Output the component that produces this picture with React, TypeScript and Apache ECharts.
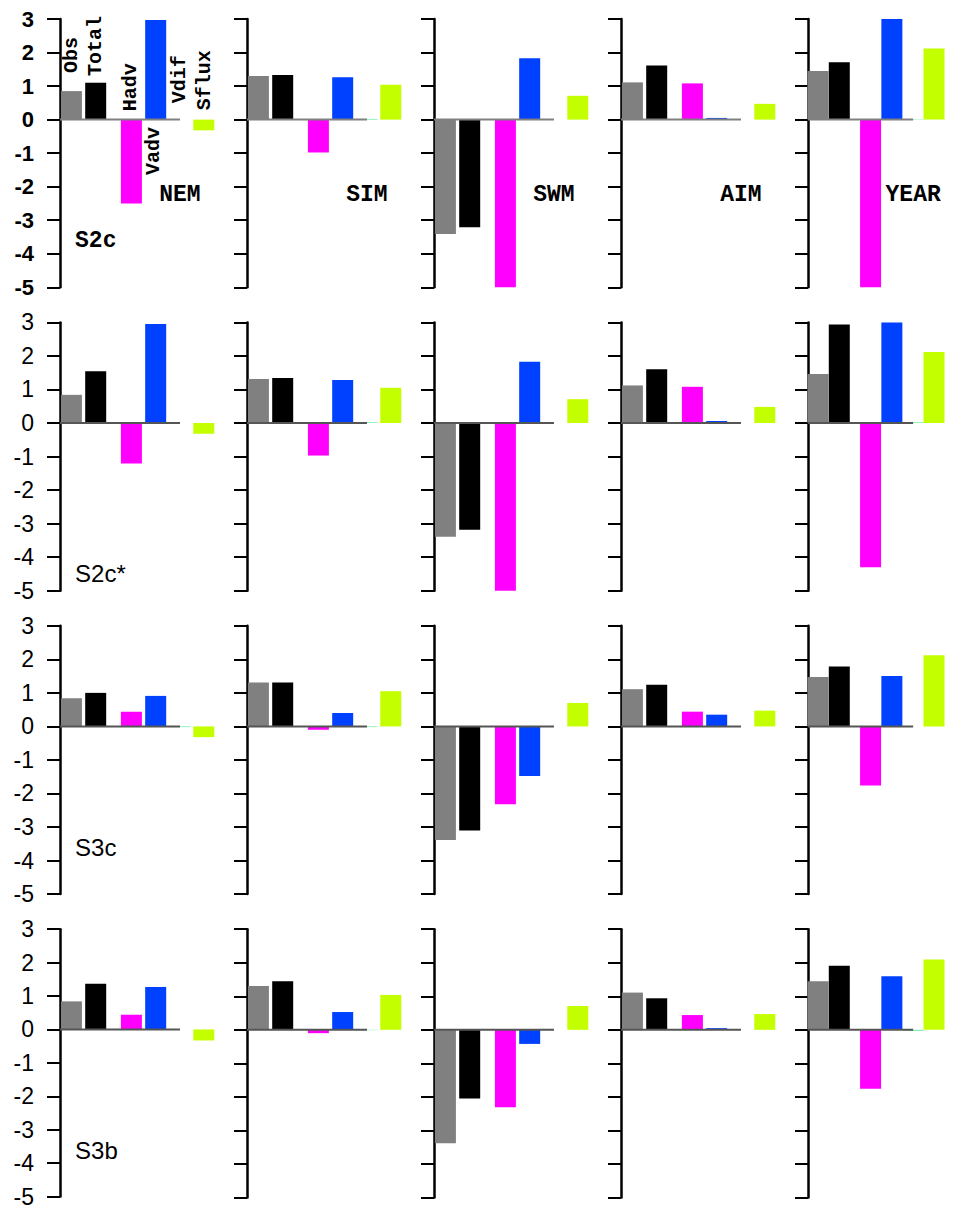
import { useEffect, useRef } from 'react';
import * as echarts from 'echarts';

const seasons = ['NEM', 'SIM', 'SWM', 'AIM', 'YEAR'];
const experiments = ['S2c', 'S2c*', 'S3c', 'S3b'];
const components = ['Obs', 'Total', 'Hadv', 'Vadv', 'Vdif', 'Sflux'];
const componentColors = ['#808080', '#000000', '#ff00ff', '#0040ff', '#5ef0a8', '#c4ff00'];

// values per season: [Obs, Total, Hadv, Vadv, Vdif, Sflux]
const s2c = [
  [0.85, 1.10, -2.50, 2.97, 0.00, -0.32],
  [1.30, 1.33, -0.98, 1.26, 0.02, 1.04],
  [-3.41, -3.21, -5.00, 1.83, 0.00, 0.71],
  [1.11, 1.61, 1.08, 0.05, 0.00, 0.47],
  [1.45, 1.71, -5.00, 3.00, 0.01, 2.12],
];
const s2cStar = [
  [0.84, 1.54, -1.21, 2.95, 0.00, -0.32],
  [1.31, 1.34, -0.97, 1.28, 0.02, 1.05],
  [-3.39, -3.18, -5.00, 1.83, 0.00, 0.71],
  [1.12, 1.60, 1.08, 0.06, 0.00, 0.48],
  [1.46, 2.94, -4.30, 3.00, 0.02, 2.12],
];
const s3c = [
  [0.84, 1.00, 0.44, 0.91, -0.02, -0.32],
  [1.31, 1.31, -0.10, 0.40, -0.02, 1.05],
  [-3.39, -3.10, -2.32, -1.48, 0.00, 0.70],
  [1.11, 1.24, 0.44, 0.35, 0.00, 0.47],
  [1.47, 1.79, -1.76, 1.50, 0.00, 2.12],
];
const s3b = [
  [0.84, 1.37, 0.44, 1.27, 0.00, -0.33],
  [1.31, 1.45, -0.10, 0.53, -0.01, 1.04],
  [-3.38, -2.05, -2.31, -0.42, 0.00, 0.71],
  [1.11, 0.94, 0.44, 0.05, 0.00, 0.47],
  [1.45, 1.91, -1.76, 1.60, -0.03, 2.10],
];
const experimentData = [s2c, s2cStar, s3c, s3b];

const Y_MIN = -5;
const Y_MAX = 3;
const Y_STEP = 1;

// layout (x in bar-slot units)
const barPos = [0.47, 1.47, 2.94, 3.94, 4.94, 5.92];
const baselineEnd = 4.94;
const compLabelX = [0.49, 1.47, 2.90, 3.84, 4.94, 5.96];
const compLabelY = [1.39, 1.30, 0.25, -0.22, 0.49, 0.28];
const compLabelAlign = ['left', 'left', 'left', 'right', 'left', 'left'];
const titlePos = [4.94, -2.25];
const rowLabelPos = [[0.62, -3.62], [0.62, -4.5], [0.62, -3.62], [0.62, -3.62]];
const rowLabelFont = [
  { fontFamily: 'Liberation Mono', fontWeight: 'bold', fontSize: 23 },
  { fontFamily: 'Liberation Sans', fontWeight: 'normal', fontSize: 24 },
  { fontFamily: 'Liberation Sans', fontWeight: 'normal', fontSize: 24 },
  { fontFamily: 'Liberation Sans', fontWeight: 'normal', fontSize: 24 },
];

export default function App() {
  const ref = useRef<HTMLDivElement>(null);
  useEffect(() => {
    document.body.style.margin = '0';
    document.body.style.overflow = 'hidden';
    const chart = echarts.init(ref.current!, null, { renderer: 'svg' });
    const grid: any[] = [];
    const xAxis: any[] = [];
    const yAxis: any[] = [];
    const series: any[] = [];
    experiments.forEach((exp, r) => {
      seasons.forEach((season, c) => {
        const idx = r * 5 + c;
        grid.push({ left: 60 + 187 * c, top: 19 + 303.4 * r, width: 170, height: 268.3 });
        xAxis.push({ type: 'value', gridIndex: idx, min: 0, max: 7, show: false });
        yAxis.push({
          type: 'value', gridIndex: idx, min: Y_MIN, max: Y_MAX, interval: Y_STEP,
          splitLine: { show: false },
          axisLine: { show: true, onZero: false, lineStyle: { color: '#000', width: 2.5 } },
          axisTick: { show: true, length: 13, inside: false, lineStyle: { color: '#000', width: 2 } },
          axisLabel: {
            show: c === 0, margin: 26, color: '#000',
            fontFamily: 'Liberation Sans', fontSize: r === 0 ? 22 : 23,
            fontWeight: r === 0 ? 'bold' : 'normal',
          },
        });
        const vals = experimentData[r][c];
        series.push({
          type: 'bar', xAxisIndex: idx, yAxisIndex: idx, barWidth: 21, z: 2,
          data: vals.map((v, i) => ({ value: [barPos[i], v], itemStyle: { color: componentColors[i] } })),
        });
        series.push({
          type: 'line', xAxisIndex: idx, yAxisIndex: idx, z: 3, silent: true,
          symbol: 'none', lineStyle: { color: r === 0 ? '#808080' : '#555555', width: 2 },
          data: [[0, 0], [baselineEnd, 0]],
        });
        const texts: any[] = [];
        if (r === 0) {
          texts.push({
            value: titlePos,
            label: { show: true, formatter: season, position: 'inside', align: 'center', verticalAlign: 'middle',
              fontFamily: 'Liberation Mono', fontWeight: 'bold', fontSize: 23, color: '#000000', textBorderWidth: 0 },
          });
        }
        if (c === 0) {
          texts.push({
            value: rowLabelPos[r],
            label: { show: true, formatter: exp, position: 'inside', align: 'left', verticalAlign: 'middle',
              color: '#000000', textBorderWidth: 0, ...rowLabelFont[r] },
          });
        }
        if (r === 0 && c === 0) {
          components.forEach((name, i) => {
            texts.push({
              value: [compLabelX[i], compLabelY[i]],
              label: { show: true, formatter: name, position: 'inside', rotate: 90, align: compLabelAlign[i],
                verticalAlign: 'middle', fontFamily: 'Liberation Mono', fontWeight: 'bold', fontSize: 20,
                color: '#000000', textBorderWidth: 0 },
            });
          });
        }
        if (texts.length) {
          series.push({
            type: 'scatter', xAxisIndex: idx, yAxisIndex: idx, z: 5, silent: true,
            symbolSize: 0, itemStyle: { color: '#000000', opacity: 1 },
            data: texts,
          });
        }
      });
    });
    chart.setOption({ animation: false, grid, xAxis, yAxis, series });
    return () => chart.dispose();
  }, []);
  return <div ref={ref} style={{ width: 957, height: 1208 }} />;
}
